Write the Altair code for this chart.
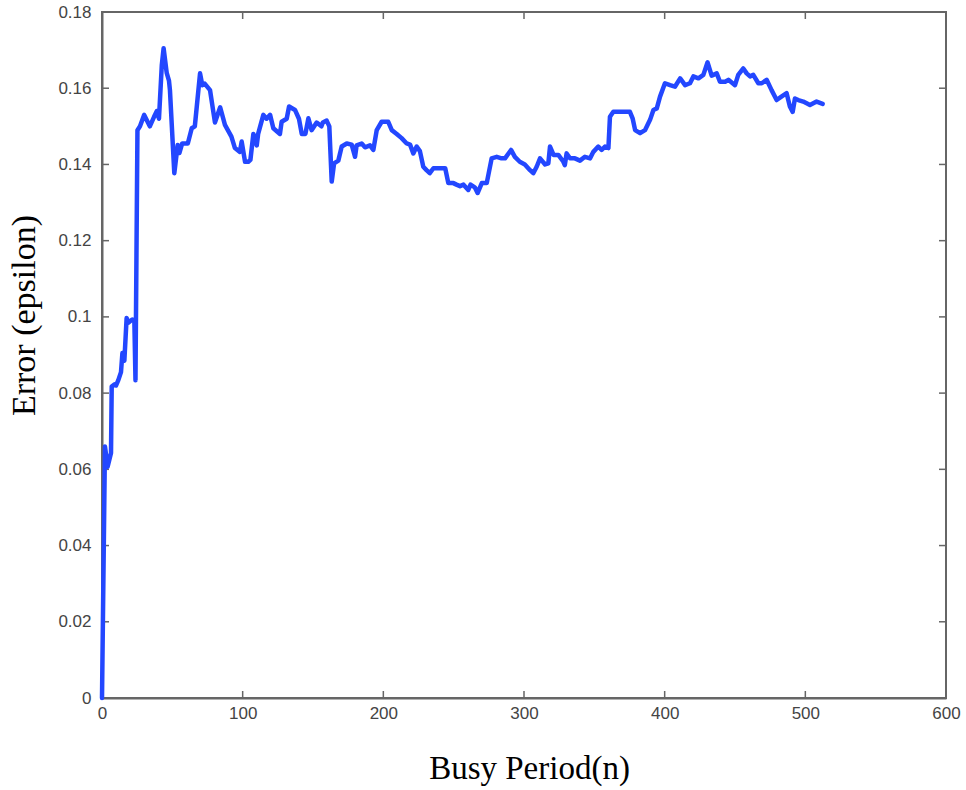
import altair as alt
import pandas as pd

# Busy period index (x) and error epsilon (y)
n_vals = [0, 2.1, 4, 6.4, 6.9, 9, 10, 11.6, 13.5, 14.5, 15.9, 17.5, 18.7, 21.5, 23, 23.8,
          25.2, 27, 30, 34, 37, 39, 40.5, 42.5, 43.8, 46, 47.6, 48.3, 51.4, 53.8, 55, 57,
          61, 63.8, 66, 69.7, 71.3, 73, 76.8, 80.3, 84, 87.4, 92, 94.5, 98, 99.3, 101.7,
          104, 105.5, 107.6, 110, 111, 114.7, 117, 119.5, 121.8, 126.5, 127.7, 131.3, 133,
          137.2, 140, 142, 144.6, 146.7, 149, 152.6, 156, 157, 159.7, 161.6, 163.3, 165,
          168, 170.4, 174, 177.5, 179.9, 181, 184.6, 187, 190.5, 192.9, 195.3, 198.8,
          203.5, 206, 209.5, 213, 216.6, 219, 221.3, 223.7, 226, 228.4, 230.7, 233, 235.6,
          238, 241.5, 244, 246.2, 249.8, 252, 254.5, 257, 260.4, 262, 265, 267, 270, 273.5,
          277, 280.6, 284, 286.5, 290.8, 293.5, 297, 300.6, 304.3, 306.6, 309, 311.4, 315,
          317.3, 318.5, 321, 324.4, 328, 329, 330.3, 332.7, 336.2, 339.8, 343.3, 347, 349.3,
          352.8, 355.2, 357.6, 360, 361.1, 363.5, 368.2, 371.8, 375.3, 377.2, 379, 382.5,
          386, 389.6, 392, 394.4, 396.7, 400.2, 403.8, 407.3, 411, 414.5, 418, 420.4, 424,
          427.5, 430.5, 433.4, 437, 439.3, 443, 445.3, 450, 452.3, 455.9, 458.3, 460.7, 463,
          466.6, 469, 472.5, 476, 479.6, 483, 486.7, 489, 491, 492.6, 495, 498.5, 503.3,
          508, 512.3]
eps_vals = [0, 0.066, 0.0607, 0.0643, 0.0817, 0.0823, 0.082, 0.0834, 0.0855, 0.0905, 0.0885,
            0.0997, 0.0985, 0.0993, 0.099, 0.0834, 0.149, 0.150, 0.153, 0.150, 0.1525, 0.154,
            0.152, 0.166, 0.1705, 0.164, 0.162, 0.1595, 0.1377, 0.1451, 0.143, 0.1455, 0.1455,
            0.1495, 0.150, 0.1639, 0.1608, 0.1612, 0.1595, 0.151, 0.155, 0.1504, 0.1473,
            0.1443, 0.1433, 0.146, 0.1407, 0.1407, 0.1412, 0.148, 0.145, 0.148, 0.153, 0.152,
            0.153, 0.1495, 0.148, 0.1512, 0.152, 0.1552, 0.1543, 0.152, 0.148, 0.148, 0.1521,
            0.149, 0.151, 0.150, 0.151, 0.1515, 0.150, 0.1355, 0.1403, 0.141, 0.1447, 0.1455,
            0.1452, 0.142, 0.145, 0.1455, 0.1445, 0.145, 0.1438, 0.149, 0.1512, 0.1512, 0.149,
            0.148, 0.1469, 0.1455, 0.1452, 0.1429, 0.1447, 0.1435, 0.1394, 0.1385, 0.1377,
            0.139, 0.139, 0.139, 0.139, 0.1351, 0.1351, 0.1347, 0.1343, 0.1347, 0.1333, 0.1347,
            0.134, 0.1325, 0.1351, 0.1351, 0.1416, 0.142, 0.1416, 0.1416, 0.1438, 0.142, 0.1407,
            0.14, 0.1385, 0.1377, 0.1394, 0.1416, 0.14, 0.1403, 0.1447, 0.1425, 0.1425, 0.1407,
            0.1398, 0.1429, 0.1416, 0.1416, 0.141, 0.142, 0.1416, 0.1433, 0.1447, 0.1438,
            0.1447, 0.1443, 0.1525, 0.1538, 0.1538, 0.1538, 0.1538, 0.1521, 0.149, 0.1482,
            0.149, 0.1517, 0.1543, 0.1547, 0.1578, 0.1613, 0.1608, 0.1604, 0.1626, 0.1608,
            0.1613, 0.1631, 0.1626, 0.1635, 0.1668, 0.1633, 0.1639, 0.1617, 0.1617, 0.1622,
            0.1608, 0.1635, 0.1652, 0.1639, 0.1631, 0.1635, 0.1613, 0.1613, 0.1622, 0.1595,
            0.1569, 0.1578, 0.1587, 0.1552, 0.1538, 0.1573, 0.1569, 0.1565, 0.1556, 0.1565,
            0.1559]

x_ticks = [0, 100, 200, 300, 400, 500, 600]
y_ticks = [0, 0.02, 0.04, 0.06, 0.08, 0.1, 0.12, 0.14, 0.16, 0.18]

W, H = 844, 686
AXIS_GRAY = "#666666"
LABEL_GRAY = "#444444"

df = pd.DataFrame({"n": n_vals, "eps": eps_vals})
dfx = pd.DataFrame({"n": x_ticks})
dfy = pd.DataFrame({"eps": y_ticks})

xscale = alt.Scale(domain=[0, 600], nice=False, zero=False)
yscale = alt.Scale(domain=[0, 0.18], nice=False, zero=False)

xaxis = alt.Axis(values=x_ticks, format="d", grid=False, tickSize=0, labelFlush=False,
                 labelFont="Liberation Sans", labelFontSize=17, labelColor=LABEL_GRAY,
                 labelPadding=7, domainColor=AXIS_GRAY, domainWidth=2,
                 title="Busy Period(n)", titleFont="Liberation Serif", titleFontSize=33,
                 titleFontWeight="normal", titleColor="black",
                 titleX=427, titleY=70, titleAlign="center", titleBaseline="middle")
yaxis = alt.Axis(values=y_ticks, format="~g", grid=False, tickSize=0, labelFlush=False,
                 labelFont="Liberation Sans", labelFontSize=17, labelColor=LABEL_GRAY,
                 labelPadding=11, domainColor=AXIS_GRAY, domainWidth=2,
                 title="Error (epsilon)", titleFont="Liberation Serif", titleFontSize=34,
                 titleFontWeight="normal", titleColor="black", titleAngle=-90,
                 titleX=-78, titleY=303, titleAlign="center", titleBaseline="middle")

line = alt.Chart(df).mark_line(color="#2347ff", strokeWidth=4.5, strokeJoin="round",
                               strokeCap="round").encode(
    x=alt.X("n:Q", scale=xscale, axis=xaxis),
    y=alt.Y("eps:Q", scale=yscale, axis=yaxis),
    order="n:Q",
)

tick_style = dict(color=AXIS_GRAY, strokeWidth=1.5)
xt_bottom = alt.Chart(dfx).mark_rule(**tick_style).encode(
    x=alt.X("n:Q", scale=xscale), y=alt.value(H), y2=alt.value(H - 7))
xt_top = alt.Chart(dfx).mark_rule(**tick_style).encode(
    x=alt.X("n:Q", scale=xscale), y=alt.value(0), y2=alt.value(7))
yt_left = alt.Chart(dfy).mark_rule(**tick_style).encode(
    y=alt.Y("eps:Q", scale=yscale), x=alt.value(0), x2=alt.value(7))
yt_right = alt.Chart(dfy).mark_rule(**tick_style).encode(
    y=alt.Y("eps:Q", scale=yscale), x=alt.value(W), x2=alt.value(W - 7))

chart = alt.layer(xt_bottom, xt_top, yt_left, yt_right, line).properties(
    width=W, height=H,
    autosize=alt.AutoSizeParams(type="none"),
    padding={"left": 102, "top": 12, "right": 20, "bottom": 92},
    background="white",
).configure_view(stroke=AXIS_GRAY, strokeWidth=2)

chart.save("out.html", embed_options={"renderer": "svg", "actions": False})
